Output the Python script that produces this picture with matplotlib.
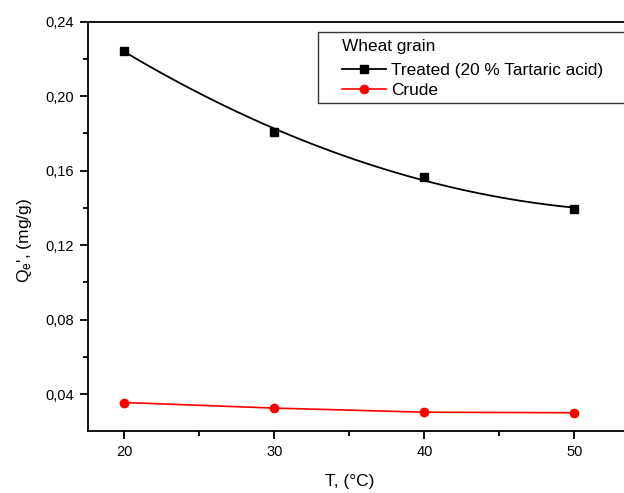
import numpy as np
import matplotlib
matplotlib.use("Agg")
import matplotlib.pyplot as plt
from matplotlib.ticker import MultipleLocator, FuncFormatter
from matplotlib.patches import Rectangle

plt.rcParams['font.family'] = ['Liberation Sans', 'DejaVu Sans']
plt.rcParams['mathtext.fontset'] = 'custom'
plt.rcParams['mathtext.rm'] = 'Liberation Sans'
plt.rcParams['mathtext.it'] = 'Liberation Sans'

temperature = [20, 30, 40, 50]
treated = [0.2245, 0.1807, 0.1566, 0.1395]
crude = [0.0355, 0.0325, 0.0303, 0.0300]
legend_title = "Wheat grain"
treated_label = "Treated (20 % Tartaric acid)"
crude_label = "Crude"

W, H = 624, 493
fig = plt.figure(figsize=(W/100, H/100), dpi=100)
ax = fig.add_axes([88/W, 62/H, (630-88)/W, (431-21.7)/H])

# smooth curve for treated series (quadratic fit of the data)
coef = np.polyfit(temperature, treated, 2)
xs = np.linspace(temperature[0], temperature[-1], 200)
ax.plot(xs, np.polyval(coef, xs), color='black', lw=1.3, zorder=2)
ax.plot(temperature, treated, linestyle='none', marker='s', ms=5.5,
        color='black', zorder=3)
ax.plot(temperature, crude, color='red', lw=1.2, marker='o', ms=6, zorder=3)

# legend proxies
h1, = ax.plot([], [], color='black', lw=1.3, marker='s', ms=5.5, label=treated_label)
h2, = ax.plot([], [], color='red', lw=1.2, marker='o', ms=6, label=crude_label)

ax.set_xlim(17.58, 53.71)
ax.set_ylim(0.0202, 0.24)
ax.xaxis.set_major_locator(MultipleLocator(10))
ax.xaxis.set_minor_locator(MultipleLocator(5))
ax.yaxis.set_major_locator(MultipleLocator(0.04))
ax.yaxis.set_minor_locator(MultipleLocator(0.02))
ax.yaxis.set_major_formatter(FuncFormatter(lambda v, p: f"{v:.2f}".replace('.', ',')))
ax.tick_params(which='major', direction='out', length=6, width=1.3, labelsize=10.5,
               top=False, right=False, pad=4)
ax.tick_params(which='minor', direction='out', length=3.5, width=1.3,
               top=False, right=False)
for s in ax.spines.values():
    s.set_linewidth(1.3)

ax.set_xlabel("T, (°C)", fontsize=12.5)
ax.set_ylabel("Q$_\\mathregular{e}$', (mg/g)", fontsize=12.5)
ax.xaxis.set_label_coords((350-88)/(630-88), -(481.7-431)/409.3)
ax.yaxis.set_label_coords(-(88-25)/(630-88), (431-240)/409.3)
ax.xaxis.label.set_va('center')
ax.yaxis.label.set_va('center')

# legend frame
fig.patches.append(Rectangle((318/W, (H-102.7)/H), (640-318)/W, 71/H,
                             transform=fig.transFigure, fill=True,
                             facecolor='white', edgecolor='#333333', lw=1.0,
                             zorder=5))
leg = fig.legend(handles=[h1, h2], title=legend_title, loc='upper left',
                 bbox_to_anchor=(341.7/W, (H-39.5)/H),
                 fontsize=12.4, title_fontsize=12.4, frameon=False,
                 handlelength=2.6, handletextpad=0.28,
                 borderpad=0, labelspacing=0.32, borderaxespad=0)
leg._legend_box.align = "left"
leg._legend_box.sep = 6
leg.set_zorder(6)

fig.savefig("out.png", dpi=100)
